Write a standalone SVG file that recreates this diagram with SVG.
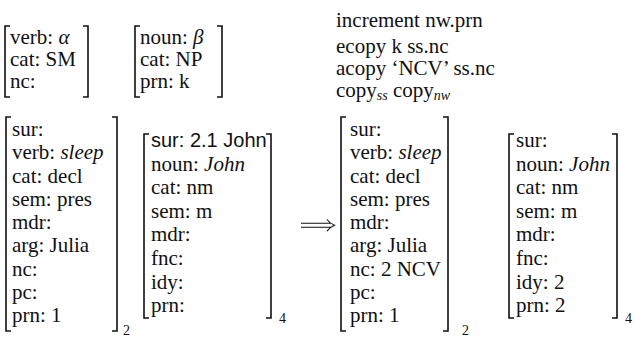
<svg xmlns="http://www.w3.org/2000/svg" width="634" height="337" viewBox="0 0 634 337" font-family="'Liberation Serif', 'DejaVu Serif', serif">
  <style>
    text { font-family: "Liberation Serif", "DejaVu Serif", serif; font-size: 21px; fill: #111; }
    .it { font-style: italic; }
    .sans { font-family: "Liberation Sans", "DejaVu Sans", sans-serif; font-size: 20px; }
    .sub { font-size: 14px; }
    .br { fill: none; stroke: #111; stroke-width: 1.6; }
    .arr { fill: none; stroke: #111; stroke-width: 1.1; }
  </style>

  <!-- small matrix: verb proplet pattern -->
  <g id="pattern-verb">
    <path class="br" d="M10,26 H5 V97 H10 M83,26 H88 V97 H83"/>
    <text x="10" y="44">verb: <tspan class="it">α</tspan></text>
    <text x="10" y="66">cat: SM</text>
    <text x="10" y="88">nc:</text>
  </g>

  <!-- small matrix: noun proplet pattern -->
  <g id="pattern-noun">
    <path class="br" d="M140,26 H135 V97 H140 M217,26 H222 V97 H217"/>
    <text x="140" y="44">noun: <tspan class="it">β</tspan></text>
    <text x="140" y="66">cat: NP</text>
    <text x="140" y="88">prn: k</text>
  </g>

  <!-- operations -->
  <g id="operations">
    <text x="336" y="27">increment nw.prn</text>
    <text x="336" y="53">ecopy k ss.nc</text>
    <text x="336" y="75">acopy ‘NCV’ ss.nc</text>
    <text x="336" y="97">copy<tspan class="it sub" dy="3">ss</tspan><tspan dy="-3"> copy</tspan><tspan class="it sub" dy="3">nw</tspan></text>
  </g>

  <!-- input: verb proplet -->
  <g id="input-verb">
    <path class="br" d="M11,117 H6 V331 H11 M112,117 H117 V331 H112"/>
    <text x="12" y="136">sur:</text>
    <text x="12" y="159.25">verb: <tspan class="it">sleep</tspan></text>
    <text x="12" y="182.5">cat: decl</text>
    <text x="12" y="205.75">sem: pres</text>
    <text x="12" y="229">mdr:</text>
    <text x="12" y="252.25">arg: Julia</text>
    <text x="12" y="275.5">nc:</text>
    <text x="12" y="298.75">pc:</text>
    <text x="12" y="322">prn: 1</text>
    <text class="sub" x="123" y="335">2</text>
  </g>

  <!-- input: noun proplet -->
  <g id="input-noun">
    <path class="br" d="M149,134 H144 V318 H149 M266,134 H271 V318 H266"/>
    <text class="sans" x="151" y="147">sur: 2.1 John</text>
    <text x="151" y="170.6">noun: <tspan class="it">John</tspan></text>
    <text x="151" y="194.2">cat: nm</text>
    <text x="151" y="217.8">sem: m</text>
    <text x="151" y="241.4">mdr:</text>
    <text x="151" y="265">fnc:</text>
    <text x="151" y="288.6">idy:</text>
    <text x="151" y="312.2">prn:</text>
    <text class="sub" x="279" y="323">4</text>
  </g>

  <!-- output: verb proplet -->
  <g id="output-verb">
    <path class="br" d="M346,117 H341 V331 H346 M443,117 H448 V331 H443"/>
    <text x="350" y="136">sur:</text>
    <text x="350" y="159.25">verb: <tspan class="it">sleep</tspan></text>
    <text x="350" y="182.5">cat: decl</text>
    <text x="350" y="205.75">sem: pres</text>
    <text x="350" y="229">mdr:</text>
    <text x="350" y="252.25">arg: Julia</text>
    <text x="350" y="275.5">nc: 2 NCV</text>
    <text x="350" y="298.75">pc:</text>
    <text x="350" y="322">prn: 1</text>
    <text class="sub" x="462" y="335">2</text>
  </g>

  <!-- output: noun proplet -->
  <g id="output-noun">
    <path class="br" d="M514,134 H509 V318 H514 M612,134 H617 V318 H612"/>
    <text x="516" y="147">sur:</text>
    <text x="516" y="170.6">noun: <tspan class="it">John</tspan></text>
    <text x="516" y="194.2">cat: nm</text>
    <text x="516" y="217.8">sem: m</text>
    <text x="516" y="241.4">mdr:</text>
    <text x="516" y="265">fnc:</text>
    <text x="516" y="288.6">idy: 2</text>
    <text x="516" y="312.2">prn: 2</text>
    <text class="sub" x="625" y="323">4</text>
  </g>

  <!-- rule application arrow -->
  <g id="connectors">
    <path class="arr" d="M301,223.3 H331 M301,227.3 H331 M327,219.5 Q330,223.5 334.5,225.3 Q330,227.1 327,231.1"/>
  </g>
</svg>
